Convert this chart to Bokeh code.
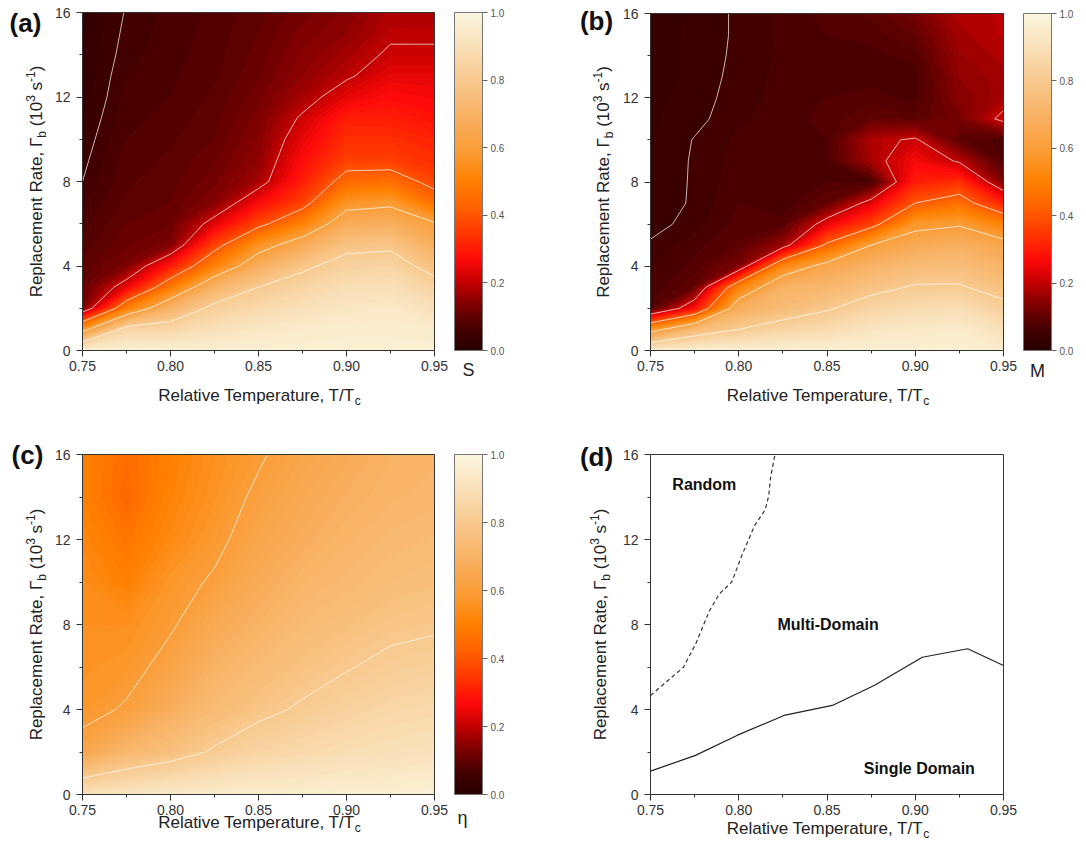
import numpy as np
from bokeh.plotting import figure
from bokeh.models import (ColorBar, LinearColorMapper, FixedTicker, Label, LinearAxis,
                          Range1d, NumeralTickFormatter)
from bokeh.layouts import column, row
from bokeh.embed import file_html
from bokeh.resources import INLINE
try:
    from bokeh.plotting.contour import contour_data
except ImportError:
    from bokeh.plotting import contour_data

# ---------------- data ----------------
T = [0.75, 0.775, 0.80, 0.825, 0.85, 0.875, 0.90, 0.925, 0.95]
G_ab = [0, 1, 2, 3, 4, 5, 6, 7, 8, 9, 10, 11, 12, 13, 14, 15, 16]
G_c = [0, 2, 4, 6, 8, 10, 12, 14, 16]

# S (panel a): one list per temperature, values at G_ab
S_by_T = [
    [0.97, 0.56, 0.12, 0.10, 0.09, 0.08, 0.07, 0.06, 0.05, 0.045, 0.04, 0.035, 0.03, 0.028, 0.025, 0.022, 0.02],
    [0.97, 0.85, 0.49, 0.24, 0.13, 0.11, 0.10, 0.09, 0.085, 0.08, 0.075, 0.07, 0.066, 0.062, 0.058, 0.055, 0.052],
    [0.97, 0.86, 0.70, 0.48, 0.29, 0.13, 0.11, 0.10, 0.095, 0.09, 0.085, 0.08, 0.075, 0.072, 0.07, 0.068, 0.066],
    [0.97, 0.90, 0.83, 0.70, 0.50, 0.36, 0.23, 0.14, 0.12, 0.11, 0.10, 0.095, 0.09, 0.085, 0.082, 0.08, 0.078],
    [0.97, 0.93, 0.87, 0.80, 0.68, 0.55, 0.37, 0.26, 0.17, 0.15, 0.14, 0.13, 0.12, 0.11, 0.105, 0.10, 0.095],
    [0.97, 0.95, 0.90, 0.85, 0.78, 0.66, 0.50, 0.36, 0.30, 0.27, 0.24, 0.21, 0.17, 0.15, 0.14, 0.13, 0.12],
    [0.97, 0.96, 0.93, 0.89, 0.84, 0.77, 0.67, 0.56, 0.44, 0.36, 0.33, 0.30, 0.24, 0.19, 0.17, 0.15, 0.14],
    [0.97, 0.96, 0.94, 0.90, 0.85, 0.78, 0.68, 0.58, 0.45, 0.36, 0.33, 0.30, 0.27, 0.24, 0.21, 0.19, 0.18],
    [0.97, 0.95, 0.90, 0.84, 0.76, 0.68, 0.61, 0.45, 0.37, 0.33, 0.31, 0.28, 0.26, 0.24, 0.21, 0.19, 0.18],
]

# M (panel b)
M_by_T = [
    [0.95, 0.55, 0.07, 0.065, 0.06, 0.052, 0.045, 0.042, 0.04, 0.038, 0.036, 0.035, 0.034, 0.033, 0.032, 0.031, 0.03],
    [0.96, 0.73, 0.27, 0.10, 0.08, 0.07, 0.055, 0.052, 0.052, 0.052, 0.051, 0.045, 0.042, 0.04, 0.04, 0.04, 0.04],
    [0.97, 0.80, 0.68, 0.50, 0.13, 0.09, 0.08, 0.075, 0.07, 0.068, 0.065, 0.06, 0.058, 0.056, 0.054, 0.053, 0.053],
    [0.97, 0.85, 0.74, 0.70, 0.52, 0.16, 0.08, 0.066, 0.066, 0.07, 0.07, 0.068, 0.066, 0.066, 0.065, 0.065, 0.065],
    [0.97, 0.88, 0.79, 0.72, 0.64, 0.42, 0.24, 0.10, 0.075, 0.07, 0.075, 0.08, 0.075, 0.07, 0.07, 0.075, 0.08],
    [0.97, 0.92, 0.85, 0.77, 0.70, 0.60, 0.36, 0.23, 0.066, 0.17, 0.18, 0.10, 0.08, 0.07, 0.07, 0.08, 0.09],
    [0.97, 0.94, 0.88, 0.81, 0.74, 0.66, 0.57, 0.40, 0.30, 0.26, 0.21, 0.09, 0.07, 0.066, 0.08, 0.10, 0.12],
    [0.97, 0.95, 0.89, 0.81, 0.75, 0.69, 0.59, 0.45, 0.33, 0.19, 0.09, 0.12, 0.14, 0.15, 0.16, 0.17, 0.18],
    [0.95, 0.90, 0.83, 0.76, 0.70, 0.64, 0.50, 0.30, 0.13, 0.075, 0.068, 0.22, 0.17, 0.17, 0.18, 0.19, 0.19],
]

# eta (panel c), values at G_c
ETA_by_T = [
    [0.90, 0.64, 0.57, 0.56, 0.55, 0.54, 0.52, 0.50, 0.50],
    [0.92, 0.72, 0.61, 0.57, 0.55, 0.50, 0.47, 0.44, 0.45],
    [0.94, 0.76, 0.68, 0.63, 0.59, 0.57, 0.53, 0.51, 0.50],
    [0.95, 0.81, 0.74, 0.70, 0.66, 0.61, 0.58, 0.56, 0.55],
    [0.96, 0.85, 0.78, 0.74, 0.70, 0.67, 0.64, 0.615, 0.59],
    [0.96, 0.87, 0.81, 0.77, 0.74, 0.71, 0.68, 0.66, 0.64],
    [0.97, 0.89, 0.84, 0.795, 0.76, 0.73, 0.71, 0.69, 0.67],
    [0.97, 0.90, 0.86, 0.82, 0.78, 0.75, 0.73, 0.71, 0.70],
    [0.97, 0.91, 0.87, 0.83, 0.79, 0.76, 0.74, 0.72, 0.71],
]

S_lines = [0.05, 0.2, 0.4, 0.6, 0.8]
M_lines = [0.05, 0.2, 0.4, 0.6, 0.8]
ETA_lines = [0.6, 0.8]

# panel d phase boundaries
random_T = [0.75, 0.7687, 0.7756, 0.7835, 0.789, 0.796, 0.802, 0.809, 0.815, 0.817, 0.818, 0.8205]
random_G = [4.66, 5.99, 7.09, 8.66, 9.44, 10.0, 11.3, 12.66, 13.4, 14.07, 14.9, 16.0]
single_T = [0.75, 0.7755, 0.799, 0.8256, 0.853, 0.8767, 0.904, 0.9297, 0.95]
single_G = [1.10, 1.84, 2.78, 3.72, 4.19, 5.13, 6.46, 6.86, 6.07]

x_ticks = [0.75, 0.80, 0.85, 0.90, 0.95]
x_minor = [0.775, 0.825, 0.875, 0.925]
y_ticks = [0, 4, 8, 12, 16]
y_minor = [2, 6, 10, 14]
cbar_ticks = [0.0, 0.2, 0.4, 0.6, 0.8, 1.0]

# ---------------- styling helpers ----------------
FONT = "Liberation Sans"
ANCH = [(0.0, "#2a0000"), (0.05, "#3d0000"), (0.10, "#620000"), (0.15, "#8e0000"),
        (0.20, "#c40000"), (0.27, "#ff0a0a"), (0.34, "#ff3300"), (0.42, "#ff6000"),
        (0.50, "#ff8000"), (0.58, "#fb9a30"), (0.68, "#f8ae5c"), (0.80, "#f8c98e"),
        (0.90, "#f9e0b8"), (1.0, "#fbf6de")]


def _rgb(h):
    return [int(h[i:i + 2], 16) for i in (1, 3, 5)]


def cmap(v):
    v = min(max(v, 0.0), 1.0)
    for (a, ca), (b, cb) in zip(ANCH[:-1], ANCH[1:]):
        if v <= b:
            t = (v - a) / (b - a)
            r = [round(x + (y - x) * t) for x, y in zip(_rgb(ca), _rgb(cb))]
            return "#%02x%02x%02x" % tuple(r)
    return ANCH[-1][1]


PALETTE = [cmap(i / 255) for i in range(256)]
FILL_LEVELS = list(np.linspace(0.0, 1.001, 81))

W = {' ': 278, '(': 333, ')': 333, ',': 278, '.': 278, '/': 278, '-': 333,
     'R': 722, 'T': 611, 'e': 556, 'p': 556, 'l': 222, 'a': 556, 'c': 500, 'm': 833,
     'n': 556, 't': 278, 'i': 222, 'v': 500, 'u': 556, 'r': 333, 's': 500, 'b': 556,
     'Γ': 556}


def tw(s, size):
    return sum(W.get(ch, 556) for ch in s) / 1000.0 * size


# canvas geometry of each panel: data box (L, R, T, B) inside a figure of fw x fh
GEO = {
    "a": dict(L=82, R=434, T=12, B=350, fw=540, fh=425),
    "b": dict(L=110, R=463, T=13, B=350, fw=545, fh=425),
    "c": dict(L=82, R=434, T=29, B=369, fw=540, fh=431),
    "d": dict(L=110, R=463, T=29, B=369, fw=545, fh=431),
}


def d(g, px, py):
    return (0.75 + (px - g["L"]) * 0.2 / (g["R"] - g["L"]),
            (g["B"] - py) * 16.0 / (g["B"] - g["T"]))


def lab(p, g, px, py, text, size, **kw):
    x, y = d(g, px, py)
    opts = dict(text_font=FONT, text_font_size=f"{size}px", text_color="#222",
                text_baseline="middle")
    opts.update(kw)
    p.add_layout(Label(x=x, y=y, text=text, **opts))


SP = tw(" ", 17)
XT = [("Relative Temperature, T/T", 17, 0, 0), ("c", 12, 5, 0)]
YT = [("Replacement Rate, Γ", 17, 0, 0), ("b", 12, 5, 0), ("(10", 17, 0, SP),
      ("3", 12, -6, 0), ("s", 17, 0, SP), ("-1", 12, -6, 0), (")", 17, 0, 0)]


def run(p, g, cx, cy, pieces, vertical=False):
    total = sum(tw(t, s) + gap for t, s, _, gap in pieces)
    pos = -total / 2 + tw(pieces[0][0], pieces[0][1])

    def place(along, shift, text, size, align):
        if vertical:
            lab(p, g, cx + shift, cy - along, text, size, text_align=align, angle=np.pi / 2)
        else:
            lab(p, g, cx + along, cy + shift, text, size, text_align=align)

    place(pos, pieces[0][2], pieces[0][0], pieces[0][1], "right")
    for t, s, sh, gap in pieces[1:]:
        pos += gap
        place(pos, sh, t, s, "left")
        pos += tw(t, s)


def style_axis(ax):
    ax.major_tick_out = 6
    ax.major_tick_in = 0
    ax.minor_tick_out = 3
    ax.minor_tick_in = 0
    ax.axis_line_color = "#333"
    ax.axis_line_width = 1
    ax.major_tick_line_color = "#333"
    ax.minor_tick_line_color = "#333"
    ax.major_label_text_font = FONT
    ax.major_label_text_font_size = "14px"
    ax.major_label_text_color = "#333"


def base_fig(key):
    g = GEO[key]
    xs = 0.2 / (g["R"] - g["L"])
    ys = 16.0 / (g["B"] - g["T"])
    p = figure(width=g["fw"], height=g["fh"], output_backend="svg", toolbar_location=None,
               x_range=Range1d(0.75 - g["L"] * xs, 0.95 + (g["fw"] - g["R"]) * xs),
               y_range=Range1d(-(g["fh"] - g["B"]) * ys, 16 + g["T"] * ys),
               x_axis_location=None, y_axis_location=None,
               min_border_left=0, min_border_right=0, min_border_top=0, min_border_bottom=0)
    p.grid.visible = False
    p.outline_line_color = None
    p.background_fill_color = "white"
    p.border_fill_color = "white"
    return p


def add_axes(p):
    xa = LinearAxis(fixed_location=0, bounds=(0.75, 0.95),
                    ticker=FixedTicker(ticks=x_ticks, minor_ticks=x_minor),
                    formatter=NumeralTickFormatter(format="0.00"))
    style_axis(xa)
    xa.major_label_standoff = 4
    p.add_layout(xa, "below")
    ya = LinearAxis(fixed_location=0.75, bounds=(0, 16),
                    ticker=FixedTicker(ticks=y_ticks, minor_ticks=y_minor))
    style_axis(ya)
    ya.major_label_standoff = 6
    p.add_layout(ya, "left")
    for loc, side, bnd in [(16, "above", (0.75, 0.95)), (0.95, "right", (0, 16))]:
        ax = LinearAxis(fixed_location=loc, bounds=bnd, ticker=FixedTicker(ticks=[]))
        ax.axis_line_color = "#333"
        ax.major_tick_line_color = None
        ax.minor_tick_line_color = None
        ax.major_label_text_font_size = "0px"
        p.add_layout(ax, side)


def heat(key, Zcols, G, lines, sym, sym_xy, xt_y, yt_cx, letter_xy):
    g = GEO[key]
    p = base_fig(key)
    Z = np.array(Zcols, dtype=float).T
    fd = contour_data(T, G, Z, FILL_LEVELS, want_fill=True, want_line=False).fill_data
    cols = [cmap((float(a) + float(b)) / 2) for a, b in zip(fd.lower_levels, fd.upper_levels)]
    p.multi_polygons(xs=fd.xs, ys=fd.ys, fill_color=cols, line_color=cols, line_width=1)
    ld = contour_data(T, G, Z, lines, want_fill=False, want_line=True).line_data
    p.multi_line(xs=ld.xs, ys=ld.ys, line_color="white", line_alpha=0.7, line_width=1)
    add_axes(p)
    mapper = LinearColorMapper(palette=PALETTE, low=0, high=1)
    cb = ColorBar(color_mapper=mapper, ticker=FixedTicker(ticks=cbar_ticks),
                  formatter=NumeralTickFormatter(format="0.0"),
                  width=28, height=g["B"] - g["T"],
                  location=(g["R"] + 20, g["fh"] - g["B"]), padding=0, margin=0,
                  major_tick_out=5, major_tick_in=0, major_tick_line_color="#666",
                  minor_tick_line_color=None, bar_line_color="#777", bar_line_width=1,
                  major_label_text_font=FONT, major_label_text_font_size="10px",
                  major_label_text_color="#555", label_standoff=3,
                  background_fill_color=None, border_line_color=None)
    p.add_layout(cb, "center")
    lab(p, g, sym_xy[0], sym_xy[1], sym, 18, text_align="center")
    run(p, g, (g["L"] + g["R"]) / 2, xt_y, XT)
    run(p, g, yt_cx, (g["T"] + g["B"]) / 2, YT, vertical=True)
    lab(p, g, letter_xy[0], letter_xy[1], "(%s)" % key, 26, text_font_style="bold",
        text_color="#111", text_align="center")
    return p


pa = heat("a", S_by_T, G_ab, S_lines, "S", (468, 369), 395, 36, (25, 22))
pb = heat("b", M_by_T, G_ab, M_lines, "M", (497, 370), 395, 63, (56, 20))
pc = heat("c", ETA_by_T, G_c, ETA_lines, "η", (462, 392), 397, 36, (27, 29))

# panel d
gd = GEO["d"]
pd_ = base_fig("d")
pd_.line(random_T, random_G, line_color="#333", line_width=1.2, line_dash="4 3")
pd_.line(single_T, single_G, line_color="#222", line_width=1.2)
add_axes(pd_)
for tx, ty, txt in [(0.7805, 14.6, "Random"), (0.8506, 7.98, "Multi-Domain"),
                    (0.9023, 1.24, "Single Domain")]:
    pd_.add_layout(Label(x=tx, y=ty, text=txt, text_font=FONT, text_font_size="16px",
                         text_font_style="bold", text_color="#111",
                         text_align="center", text_baseline="middle"))
run(pd_, gd, (gd["L"] + gd["R"]) / 2, 403, XT)
run(pd_, gd, 60, (gd["T"] + gd["B"]) / 2, YT, vertical=True)
lab(pd_, gd, 56, 31, "(d)", 26, text_font_style="bold", text_color="#111",
    text_align="center")

layout = column(row(pa, pb), row(pc, pd_))
open("out.html", "w").write(file_html(layout, INLINE))
